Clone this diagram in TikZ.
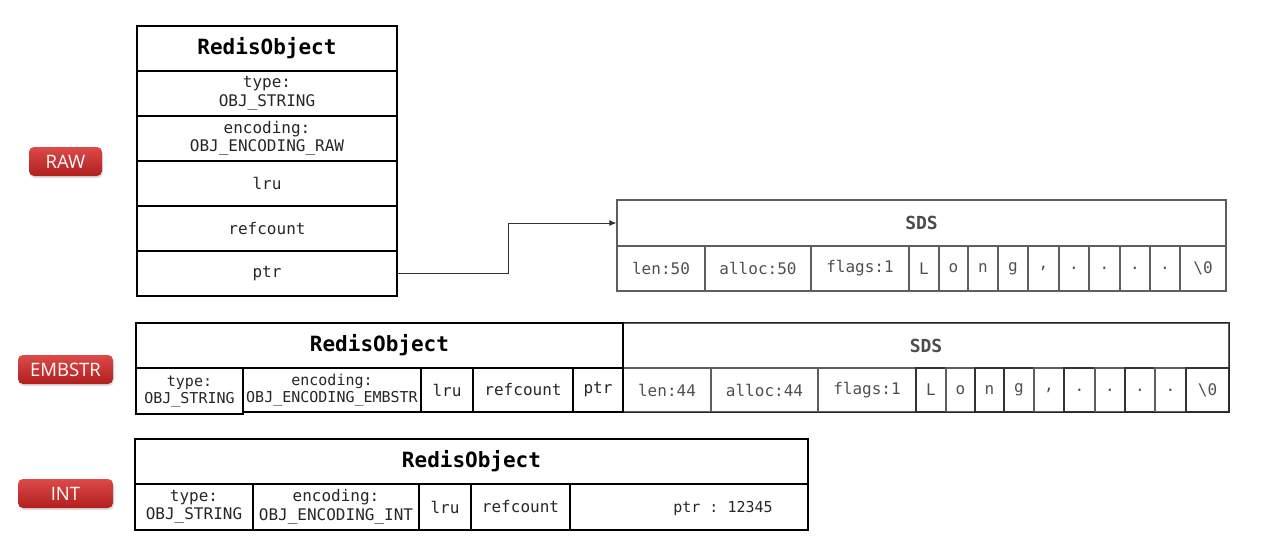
\documentclass[tikz,border=0pt]{standalone}
\usepackage{fontspec}
\setmonofont{DejaVu Sans Mono}
\newfontfamily\btnfont{Open Sans}
\usetikzlibrary{arrows.meta,shadows}
\definecolor{btntop}{HTML}{DE4A4A}
\definecolor{btnbot}{HTML}{B01E1E}
\definecolor{sdsline}{HTML}{5E5E5E}
\definecolor{sdstext}{HTML}{505050}
\newcommand\bx[7]{\node[#7, minimum width={(#4-#2)*1pt}, minimum height={(#5-#3)*1pt}] (#1) at ({(#2+#4)/2},{(#3+#5)/2}) {#6};}
\tikzset{
  cellR/.style={draw=black, line width=1.8pt, inner sep=0pt, align=center, text=black!85, font=\ttfamily\fontsize{16}{18.5}\selectfont},
  smallR/.style={cellR, font=\ttfamily\fontsize{15}{17}\selectfont},
  titleR/.style={cellR, text=black, font=\ttfamily\bfseries\fontsize{21}{24}\selectfont},
  cellS/.style={draw=sdsline, line width=1.3pt, inner sep=0pt, align=center, text=sdstext, font=\ttfamily\fontsize{16}{18}\selectfont},
  cellSd/.style={cellS, draw=black!80},
  titleS/.style={cellS, text=black!70, font=\ttfamily\bfseries\fontsize{18}{20}\selectfont},
  btn/.style={rounded corners=5pt, top color=btntop, bottom color=btnbot, draw=none, inner sep=0pt, text=white, font=\btnfont\fontsize{18.5}{21}\selectfont, drop shadow={opacity=0.25, shadow xshift=1pt, shadow yshift=-2pt}},
  link/.style={draw=black!80, line width=0.8pt, -{Latex[length=7pt,width=6pt]}}
}
\begin{document}
\begin{tikzpicture}[x=1pt,y=-1pt]
\useasboundingbox (0,0) rectangle (1262,536);
% ---------- RAW ----------
\bx{rawbtn}{29}{147}{102}{176}{RAW}{btn}
\bx{rawsdst}{617}{200}{1226}{246}{SDS}{titleS}
\bx{rs1}{617}{246}{705}{291}{len:50}{cellS}
\bx{rs2}{705}{246}{811}{291}{alloc:50}{cellS}
\bx{rs3}{811}{246}{909}{291}{flags:1}{cellS}
\bx{rs4}{909}{246}{939}{291}{L}{cellS}
\bx{rs5}{939}{246}{968}{291}{o}{cellS}
\bx{rs6}{968}{246}{998}{291}{n}{cellS}
\bx{rs7}{998}{246}{1028}{291}{g}{cellS}
\bx{rs8}{1028}{246}{1059}{291}{,}{cellS}
\bx{rs9}{1059}{246}{1089}{291}{.}{cellS}
\bx{rs10}{1089}{246}{1120}{291}{.}{cellS}
\bx{rs11}{1120}{246}{1150}{291}{.}{cellS}
\bx{rs12}{1150}{246}{1180}{291}{.}{cellS}
\bx{rs13}{1180}{246}{1226}{291}{\textbackslash 0}{cellS}
\bx{rawt}{137}{26}{397}{71}{RedisObject}{titleR}
\bx{rawtype}{137}{71}{397}{116}{type:\\OBJ\_STRING}{cellR}
\bx{rawenc}{137}{116}{397}{161}{encoding:\\OBJ\_ENCODING\_RAW}{cellR}
\bx{rawlru}{137}{161}{397}{206}{lru}{cellR}
\bx{rawref}{137}{206}{397}{251}{refcount}{cellR}
\bx{rawptr}{137}{251}{397}{296}{ptr}{cellR}
\draw[link] (rawptr.east) -- ++(110,0) |- (rawsdst.west);
% ---------- EMBSTR ----------
\bx{embbtn}{18}{355}{113}{384}{EMBSTR}{btn}
\bx{embsdst}{623}{323}{1229}{368}{SDS}{titleS}
\bx{es1}{623}{368}{711}{412}{len:44}{cellS}
\bx{es2}{711}{368}{818}{412}{alloc:44}{cellS}
\bx{es3}{818}{368}{916}{412}{flags:1}{cellS}
\bx{es4}{916}{368}{946}{412}{L}{cellSd}
\bx{es5}{946}{368}{975}{412}{o}{cellS}
\bx{es6}{975}{368}{1004}{412}{n}{cellSd}
\bx{es7}{1004}{368}{1034}{412}{g}{cellSd}
\bx{es8}{1034}{368}{1064}{412}{,}{cellS}
\bx{es9}{1064}{368}{1095}{412}{.}{cellSd}
\bx{es10}{1095}{368}{1125}{412}{.}{cellS}
\bx{es11}{1125}{368}{1155}{412}{.}{cellSd}
\bx{es12}{1155}{368}{1186}{412}{.}{cellS}
\bx{es13}{1186}{368}{1229}{412}{\textbackslash 0}{cellSd}
\draw[black!85, line width=1.5pt] (embsdst.north west) -- (embsdst.north east) -- (es13.south east) -- (es1.south west);
\bx{embt}{136}{323}{623}{368}{RedisObject}{titleR}
\bx{embenc}{243}{368}{421}{412}{encoding:\\OBJ\_ENCODING\_EMBSTR}{smallR}
\bx{emblru}{421}{368}{473}{412}{lru}{cellR}
\bx{embref}{473}{368}{573}{412}{refcount}{cellR}
\bx{embptr}{573}{368}{623}{412}{ptr}{cellR}
\bx{embtype}{136}{368}{243}{414}{type:\\OBJ\_STRING}{smallR}
% ---------- INT ----------
\bx{intbtn}{18}{479}{113}{508}{INT}{btn}
\bx{intt}{135}{439}{808}{484}{RedisObject}{titleR}
\bx{inttype}{135}{484}{253}{530}{type:\\OBJ\_STRING}{cellR}
\bx{intenc}{253}{484}{419}{530}{encoding:\\OBJ\_ENCODING\_INT}{cellR}
\bx{intlru}{419}{484}{471}{530}{lru}{cellR}
\bx{intref}{471}{484}{570}{530}{refcount}{cellR}
\bx{intptr}{570}{484}{808}{530}{}{cellR}
\node[font=\ttfamily\fontsize{15}{17}\selectfont, text=black!85, inner sep=0pt] (intptrtxt) at (723,508) {ptr : 12345};
\end{tikzpicture}
\end{document}
